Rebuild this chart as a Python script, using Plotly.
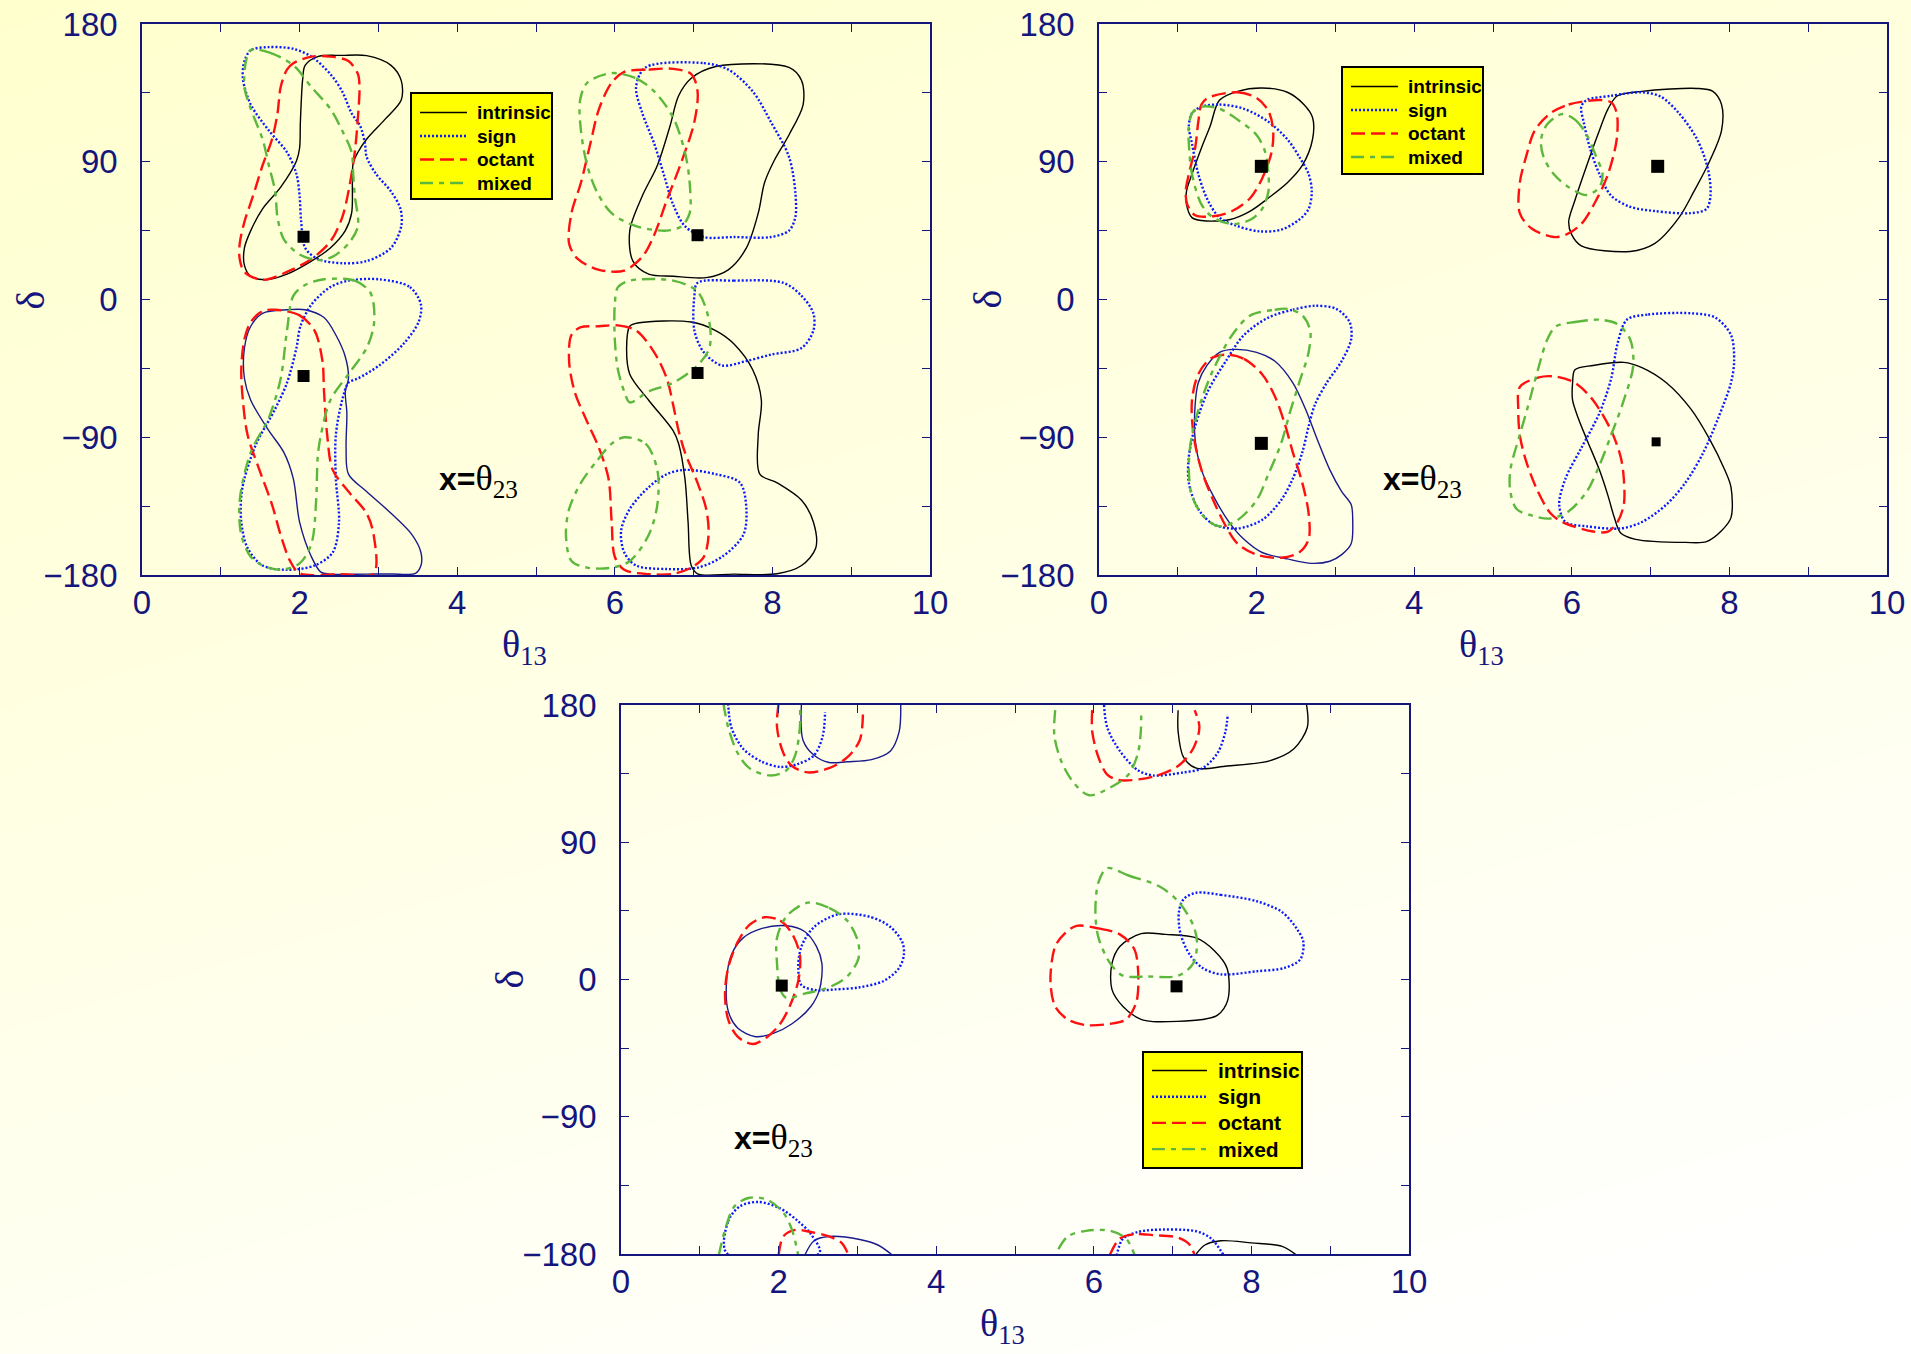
import plotly.graph_objects as go

# ----------------------------------------------------------------------------
# Axis ticks
# ----------------------------------------------------------------------------
X_TICK_VALUES = [0, 1, 2, 3, 4, 5, 6, 7, 8, 9, 10]
X_TICK_LABELS = ["0", "", "2", "", "4", "", "6", "", "8", "", "10"]
Y_TICK_VALUES = [-180, -135, -90, -45, 0, 45, 90, 135, 180]
Y_TICK_LABELS = ["\u2212180", "", "\u221290", "", "0", "", "90", "", "180"]

SERIES = ["intrinsic", "sign", "octant", "mixed"]

# ----------------------------------------------------------------------------
# Panel 1 contours: (theta13 [deg], delta [deg])
# ----------------------------------------------------------------------------
P1_INTR_UL = [(2.23, 158.7), (2.54, 159.5), (2.85, 159.3), (3.16, 153), (3.29, 143), (3.29, 130.3),
              (3.08, 117.5), (2.85, 104.7), (2.74, 96.2), (2.68, 89.1), (2.67, 76.3), (2.66, 56.4),
              (2.58, 45), (2.39, 33.7), (2.15, 25.1), (1.84, 16.6), (1.57, 12.9), (1.38, 15.2),
              (1.30, 22.3), (1.30, 33.7), (1.38, 45), (1.53, 59.2), (1.76, 73.4), (1.96, 90.5),
              (2.00, 99), (2.01, 116), (2.04, 144.5), (2.07, 153), (2.23, 158.7)]
P1_INTR_UR = [(7.28, 152.2), (8.21, 151.6), (8.37, 143.1), (8.39, 127.4), (8.21, 107.5), (8.02, 90.5),
              (7.90, 76.3), (7.82, 56.4), (7.67, 33.7), (7.44, 19.4), (7.16, 14.3), (6.74, 15.2),
              (6.43, 16.6), (6.23, 25.1), (6.19, 45), (6.35, 67.8), (6.54, 87.6), (6.70, 113.2),
              (6.81, 133.1), (6.97, 144.5), (7.28, 152.2)]
P1_INTR_LR = [(6.19, -17.5), (6.31, -15.2), (6.97, -14.7), (7.28, -20.3), (7.51, -28.9), (7.75, -45.9),
              (7.86, -65.8), (7.82, -88.5), (7.84, -114.1), (8.06, -119.8), (8.37, -131.2),
              (8.52, -145.4), (8.55, -162.4), (8.37, -173.8), (8.06, -179.2), (7.51, -179.4),
              (7.05, -179.2), (6.97, -173.8), (6.93, -145.4), (6.89, -117), (6.81, -94.2),
              (6.74, -85.7), (6.43, -65.8), (6.19, -48.8), (6.15, -31.7), (6.19, -17.5)]
P1_INTR_LL = [(1.84, -6.7), (2.07, -6.7), (2.31, -11.8), (2.46, -23.2), (2.58, -37.4), (2.62, -51.6),
              (2.58, -60.1), (2.60, -74.3), (2.59, -97.1), (2.62, -114.1), (2.85, -125.5),
              (3.16, -139.7), (3.43, -153.9), (3.54, -165.3), (3.54, -173.8), (3.47, -178.9),
              (3.16, -179.3), (2.85, -179.4), (2.39, -179.4), (2.27, -178.1), (2.15, -168.1),
              (2.00, -145.4), (1.92, -117), (1.80, -99.9), (1.61, -85.7), (1.38, -65.8),
              (1.30, -51.6), (1.30, -31.7), (1.38, -17.5), (1.53, -9), (1.84, -6.7)]

P1_SIGN_UL = [(1.61, 164.9), (1.38, 162.9), (1.30, 155.8), (1.28, 144.5), (1.38, 127.4), (1.61, 110.4),
              (1.84, 96.2), (1.96, 82), (2.00, 67.8), (2.02, 50.7), (2.07, 33.7), (2.23, 26.5),
              (2.54, 23.7), (2.85, 25.1), (3.16, 33.7), (3.29, 47.9), (3.28, 59.2), (3.16, 70.6),
              (2.97, 82), (2.85, 93.3), (2.83, 101.9), (2.77, 113.2), (2.66, 121.7), (2.54, 136),
              (2.39, 147.3), (2.15, 158.7), (1.92, 163.8), (1.61, 164.9)]
P1_SIGN_UR = [(6.39, 151.6), (7.13, 154.4), (7.44, 150.2), (7.75, 136), (7.98, 116.1), (8.21, 93.3),
              (8.29, 70.6), (8.29, 53.5), (8.21, 45), (7.98, 40.8), (7.51, 40.8), (7.13, 40.8),
              (6.89, 47.9), (6.74, 62.1), (6.62, 82), (6.50, 101.9), (6.35, 121.7), (6.27, 138.8),
              (6.39, 151.6)]
P1_SIGN_LL = [(3.01, 13.2), (3.40, 8.1), (3.54, -3.3), (3.51, -14.7), (3.32, -28.9), (3.01, -43.1),
              (2.74, -51.6), (2.62, -54.4), (2.54, -65.8), (2.46, -88.5), (2.46, -117), (2.50, -145.4),
              (2.42, -165.3), (2.19, -173.8), (1.84, -176.6), (1.53, -173.8), (1.34, -162.4),
              (1.26, -145.4), (1.26, -128.3), (1.30, -117), (1.45, -94.2), (1.69, -71.5),
              (1.84, -54.4), (1.96, -31.7), (2.01, -17.5), (2.15, -3.3), (2.39, 8.1), (2.62, 12.3),
              (3.01, 13.2)]
P1_SIGN_LR_A = [(7.05, 10.9), (7.51, 12.3), (8.14, 10.9), (8.37, 2.4), (8.52, -9), (8.52, -20.3),
                (8.37, -31.7), (7.98, -36), (7.67, -40.2), (7.36, -43.1), (7.13, -34.5),
                (7.01, -20.3), (7.01, 2.4), (7.05, 10.9)]
P1_SIGN_LR_B = [(6.89, -111.3), (7.28, -114.1), (7.59, -119.8), (7.67, -136.9), (7.63, -153.9),
                (7.36, -168.1), (7.05, -175.2), (6.66, -176.1), (6.27, -173.8), (6.12, -165.3),
                (6.08, -151.1), (6.19, -136.9), (6.43, -122.6), (6.66, -114.1), (6.89, -111.3)]

P1_OCT_UL = [(2.15, 158.7), (1.92, 154.4), (1.84, 150.2), (1.76, 138.8), (1.72, 121.7), (1.65, 104.7),
             (1.53, 87.6), (1.41, 67.8), (1.30, 50.7), (1.24, 36.5), (1.24, 26.5), (1.30, 18),
             (1.53, 12.9), (1.84, 18), (2.15, 26.5), (2.39, 37.9), (2.54, 53.5), (2.62, 70.6),
             (2.70, 96.2), (2.74, 118.9), (2.76, 138.8), (2.74, 147.3), (2.62, 155.8), (2.39, 158.7),
             (2.15, 158.7)]
P1_OCT_UR = [(6.12, 148.7), (6.43, 150.2), (6.74, 150.7), (6.97, 147.3), (7.05, 136), (7.01, 116.1),
             (6.85, 90.5), (6.66, 64.9), (6.50, 42.2), (6.35, 28), (6.12, 18.9), (5.80, 19.4),
             (5.53, 26.5), (5.42, 36.5), (5.45, 56.4), (5.57, 76.3), (5.69, 101.9), (5.80, 124.6),
             (5.96, 141.6), (6.12, 148.7)]
P1_OCT_LL = [(1.69, -6.7), (2.00, -10.4), (2.19, -20.3), (2.29, -40.2), (2.31, -60.1), (2.35, -88.5),
             (2.42, -111.3), (2.62, -125.5), (2.85, -139.7), (2.94, -153.9), (2.94, -179.2),
             (2.54, -179.4), (2.00, -178.9), (1.88, -170.9), (1.76, -153.9), (1.65, -134),
             (1.49, -111.3), (1.34, -88.5), (1.28, -65.8), (1.26, -45.9), (1.30, -26), (1.38, -14.7),
             (1.53, -7.6), (1.69, -6.7)]
P1_OCT_LR = [(5.80, -17.5), (6.04, -16.9), (6.27, -20.3), (6.50, -34.5), (6.66, -51.6), (6.74, -68.7),
             (6.81, -85.7), (6.89, -99.9), (7.05, -119.8), (7.16, -136.9), (7.19, -153.9),
             (7.13, -168.1), (6.97, -175.2), (6.74, -179.2), (6.43, -179.4), (6.12, -176.6),
             (6.00, -168.1), (5.96, -145.4), (5.92, -117), (5.80, -97.1), (5.65, -80), (5.49, -60.1),
             (5.42, -40.2), (5.45, -23.2), (5.57, -18.1), (5.80, -17.5)]

P1_MIX_UL = [(1.38, 162.9), (1.61, 161.5), (1.92, 153), (2.15, 138.8), (2.39, 124.6), (2.54, 110.4),
             (2.66, 96.2), (2.68, 82), (2.70, 67.8), (2.74, 47.9), (2.62, 36.5), (2.42, 28),
             (2.23, 25.7), (2.00, 29.4), (1.80, 39.3), (1.72, 53.5), (1.69, 70.6), (1.61, 87.6),
             (1.53, 104.7), (1.38, 124.6), (1.30, 138.8), (1.32, 155.8), (1.38, 162.9)]
P1_MIX_UR = [(5.96, 147.9), (6.27, 144.5), (6.50, 136), (6.74, 118.9), (6.89, 96.2), (6.95, 76.3),
             (6.95, 56.4), (6.85, 47.9), (6.66, 45), (6.27, 47.9), (5.96, 56.4), (5.77, 70.6),
             (5.65, 87.6), (5.57, 110.4), (5.56, 130.3), (5.65, 141.6), (5.96, 147.9)]
P1_MIX_LL = [(2.31, 13.2), (2.70, 12.3), (2.89, 5.2), (2.94, -3.3), (2.94, -17.5), (2.85, -31.7),
             (2.62, -48.8), (2.39, -65.8), (2.27, -88.5), (2.23, -102.8), (2.21, -131.2),
             (2.15, -159.6), (2.00, -172.4), (1.76, -176.6), (1.53, -173.8), (1.38, -168.1),
             (1.26, -153.9), (1.24, -131.2), (1.38, -99.9), (1.61, -77.2), (1.76, -51.6),
             (1.84, -20.3), (1.92, 2.4), (2.07, 9.5), (2.31, 13.2)]
P1_MIX_LR_A = [(6.19, 12.3), (6.74, 12.3), (7.05, 5.2), (7.20, -14.7), (7.20, -31.7), (7.05, -43.1),
               (6.74, -54.4), (6.43, -60.1), (6.19, -67.2), (6.12, -60.1), (6.04, -45.9), (6.00, -26),
               (6.00, -3.3), (6.04, 8.1), (6.19, 12.3)]
P1_MIX_LR_B = [(6.12, -90), (6.39, -94.2), (6.54, -111.3), (6.54, -134), (6.43, -153.9),
               (6.19, -170.9), (5.96, -175.2), (5.65, -175.2), (5.45, -170.9), (5.38, -153.9),
               (5.42, -136.9), (5.57, -119.8), (5.77, -105.6), (5.96, -94.2), (6.12, -90)]

P1_TRUE_X = [2.05, 2.05, 7.05, 7.05]
P1_TRUE_Y = [41, -50, 42, -48]

# ----------------------------------------------------------------------------
# Panel 2 contours
# ----------------------------------------------------------------------------
P2_INTR_UL = [(1.53, 130.3), (1.76, 136), (2.07, 138.2), (2.39, 135.4), (2.60, 127.4), (2.71, 118.9),
              (2.71, 104.7), (2.58, 87.6), (2.39, 76.3), (2.15, 66.3), (1.92, 57.8), (1.65, 52.1),
              (1.30, 51.6), (1.18, 53.5), (1.11, 62.1), (1.11, 70.6), (1.18, 82), (1.30, 99),
              (1.41, 113.2), (1.53, 130.3)]
P2_INTR_UR = [(6.58, 133.1), (6.89, 136), (7.59, 137.9), (7.79, 136), (7.90, 127.4), (7.90, 110.4),
              (7.75, 90.5), (7.55, 70.6), (7.36, 53.5), (7.05, 36.5), (6.74, 31.4), (6.12, 35.1),
              (6.00, 42.2), (5.96, 50.7), (6.04, 64.9), (6.19, 87.6), (6.35, 110.4), (6.46, 124.6),
              (6.58, 133.1)]
P2_INTR_LL = [(1.53, -34.5), (1.72, -32.6), (2.00, -34.5), (2.23, -40.2), (2.46, -54.4), (2.62, -71.5),
              (2.77, -91.4), (2.93, -111.3), (3.08, -125.5), (3.20, -134), (3.22, -145.4),
              (3.20, -159.6), (3.08, -166.7), (2.93, -171), (2.70, -172.4), (2.39, -169.5),
              (2.07, -165.3), (1.84, -156.7), (1.65, -145.4), (1.45, -128.3), (1.30, -111.3),
              (1.22, -91.4), (1.22, -68.7), (1.26, -54.4), (1.37, -43.1), (1.53, -34.5)]
P2_INTR_LR = [(6.04, -45.9), (6.27, -43.1), (6.66, -41.1), (6.89, -44.5), (7.20, -54.4), (7.51, -71.5),
              (7.75, -91.4), (7.94, -111.3), (8.02, -122.6), (8.02, -142.5), (7.90, -151.1),
              (7.71, -158.2), (7.44, -158.7), (6.81, -156.7), (6.62, -152.5), (6.54, -142.5),
              (6.46, -128.3), (6.35, -111.3), (6.19, -91.4), (6.08, -77.2), (6.01, -65.8),
              (6.01, -54.4), (6.04, -45.9)]

P2_SIGN_UL = [(1.30, 126), (1.53, 127.4), (1.84, 124.6), (2.15, 116.1), (2.39, 104.7), (2.54, 93.3),
              (2.66, 82), (2.70, 70.6), (2.66, 59.2), (2.54, 52.1), (2.31, 45.6), (2.04, 44.5),
              (1.76, 47.9), (1.53, 53.5), (1.38, 64.9), (1.26, 82), (1.18, 101.9), (1.14, 113.2),
              (1.18, 121.7), (1.30, 126)]
P2_SIGN_UR = [(6.19, 130.3), (6.50, 133.1), (6.89, 135.4), (7.13, 132.5), (7.36, 121.7), (7.59, 104.7),
              (7.73, 84.8), (7.76, 67.8), (7.71, 59.2), (7.51, 56.4), (7.05, 57.8), (6.74, 60.6),
              (6.50, 67.8), (6.35, 82), (6.23, 99), (6.15, 116.1), (6.12, 126), (6.19, 130.3)]
P2_SIGN_LL = [(2.15, -11.8), (2.46, -6.7), (2.74, -4.1), (3.01, -6.1), (3.18, -14.7), (3.20, -26),
              (3.08, -40.2), (2.89, -54.4), (2.74, -68.7), (2.66, -82.9), (2.58, -99.9), (2.46, -117),
              (2.31, -131.2), (2.07, -144), (1.76, -149.6), (1.45, -146.8), (1.26, -136.9),
              (1.14, -119.8), (1.14, -102.8), (1.22, -82.9), (1.38, -60.1), (1.61, -40.2),
              (1.84, -23.2), (2.15, -11.8)]
P2_SIGN_LR = [(6.70, -13.2), (6.97, -9.8), (7.51, -9), (7.82, -11.8), (8.02, -23.2), (8.06, -40.2),
              (8.02, -54.4), (7.86, -77.2), (7.67, -99.9), (7.44, -119.8), (7.20, -134), (6.89, -145.4),
              (6.62, -149.6), (6.19, -148.2), (5.92, -145.4), (5.84, -134), (5.92, -117), (6.12, -97.1),
              (6.35, -74.3), (6.50, -51.6), (6.58, -28.9), (6.70, -13.2)]

P2_OCT_UL = [(1.38, 131.7), (1.76, 135.4), (2.00, 131.7), (2.15, 123.2), (2.21, 110.4), (2.19, 96.2),
             (2.07, 79.1), (1.92, 66.3), (1.69, 57.8), (1.45, 54.4), (1.22, 55), (1.12, 62.1),
             (1.10, 70.6), (1.14, 82), (1.22, 99), (1.26, 116.1), (1.30, 127.4), (1.38, 131.7)]
P2_OCT_UR = [(5.73, 121.7), (5.96, 127.4), (6.35, 130.3), (6.50, 128.8), (6.57, 121.7), (6.57, 104.7),
             (6.46, 82), (6.31, 64.9), (6.12, 49.3), (5.92, 42.2), (5.77, 40.8), (5.49, 46.4),
             (5.34, 56.4), (5.34, 76.3), (5.42, 93.3), (5.53, 110.4), (5.73, 121.7)]
P2_OCT_LL = [(1.61, -36), (1.84, -38.8), (2.07, -48.8), (2.23, -63), (2.35, -80), (2.46, -99.9),
             (2.58, -119.8), (2.66, -139.7), (2.66, -156.7), (2.54, -165.3), (2.31, -168.7),
             (2.00, -166.7), (1.76, -159.6), (1.61, -148.2), (1.45, -131.2), (1.30, -111.3),
             (1.20, -88.5), (1.18, -65.8), (1.26, -48.8), (1.41, -38.8), (1.61, -36)]
P2_OCT_LR = [(5.34, -57.3), (5.57, -51), (5.77, -50.2), (6.04, -54.4), (6.27, -65.8), (6.50, -85.7),
             (6.62, -102.8), (6.66, -117), (6.66, -134), (6.58, -145.4), (6.46, -151.6),
             (6.27, -151.6), (5.88, -145.4), (5.73, -139.7), (5.57, -125.5), (5.42, -105.6),
             (5.34, -88.5), (5.32, -71.5), (5.34, -57.3)]

P2_MIX_UL = [(1.18, 121.7), (1.30, 126), (1.53, 124.6), (1.76, 117.5), (2.00, 107.5), (2.11, 96.2),
             (2.15, 82), (2.15, 70.6), (2.07, 59.2), (1.92, 52.1), (1.69, 49.3), (1.45, 53.5),
             (1.30, 62.1), (1.18, 82), (1.14, 101.9), (1.14, 113.2), (1.18, 121.7)]
P2_MIX_UR = [(5.88, 121.2), (6.04, 117.5), (6.19, 107.5), (6.31, 93.3), (6.39, 82), (6.35, 73.4),
             (6.19, 68.3), (5.96, 73.4), (5.77, 82), (5.64, 93.3), (5.61, 104.7), (5.69, 114.6),
             (5.88, 121.2)]
P2_MIX_LL = [(1.92, -10.4), (2.23, -6.7), (2.39, -6.1), (2.58, -10.4), (2.68, -20.3), (2.66, -34.5),
             (2.54, -54.4), (2.42, -74.3), (2.31, -94.2), (2.15, -114.1), (2.00, -131.2), (1.76, -144),
             (1.53, -148.2), (1.34, -142.5), (1.18, -128.3), (1.14, -108.4), (1.18, -88.5),
             (1.30, -65.8), (1.45, -45.9), (1.69, -23.2), (1.92, -10.4)]
P2_MIX_LR = [(5.80, -17.5), (6.04, -14.7), (6.35, -13.2), (6.58, -16.1), (6.74, -26), (6.78, -43.1),
             (6.66, -65.8), (6.50, -88.5), (6.35, -108.4), (6.19, -125.5), (5.96, -138.3),
             (5.73, -143.1), (5.49, -141.1), (5.30, -136.9), (5.22, -125.5), (5.22, -111.3),
             (5.34, -88.5), (5.45, -68.7), (5.57, -45.9), (5.69, -26), (5.80, -17.5)]

P2_TRUE_X = [2.06, 7.09, 2.06, 7.07]
P2_TRUE_Y = [87, 87, -94, -93]

# ----------------------------------------------------------------------------
# Panel 3 contours (curves wrap across delta = +/-180)
# ----------------------------------------------------------------------------
P3_INTR_TL = [(2.29, 181), (2.31, 156.9), (2.45, 147), (2.64, 142.3), (2.87, 142.8), (3.18, 144.2),
              (3.42, 149.9), (3.53, 162.5), (3.55, 181)]
P3_INTR_TR = [(7.07, 176.6), (7.07, 162.5), (7.14, 145.6), (7.30, 138.6), (7.69, 140), (8.23, 143.4),
              (8.54, 151.3), (8.71, 165.4), (8.70, 180)]
P3_INTR_ML = [(2.10, 35.2), (2.33, 31.5), (2.48, 21.7), (2.55, 10.4), (2.52, -6.5), (2.41, -17.7),
              (2.17, -29), (1.94, -35.2), (1.71, -37.5), (1.48, -31.8), (1.36, -20.6), (1.34, -0.8),
              (1.40, 16.1), (1.55, 27.3), (1.79, 33.5), (2.10, 35.2)]
P3_INTR_MR = [(6.60, 30.1), (6.91, 29.6), (7.30, 27.3), (7.53, 18.9), (7.69, 7.6), (7.70, -13.5),
              (7.57, -23.4), (7.38, -26.2), (6.75, -27.6), (6.60, -26.2), (6.37, -17.7), (6.23, -6.5),
              (6.23, 10.4), (6.33, 21.7), (6.60, 30.1)]
P3_INTR_BL = [(2.33, -181), (2.45, -171.3), (2.64, -168.5), (3.03, -170.5), (3.26, -174.1), (3.45, -181)]
P3_INTR_BR = [(7.30, -180), (7.41, -174.1), (7.61, -171.3), (8.00, -172.7), (8.39, -175), (8.58, -181)]

P3_SIGN_TL = [(1.36, 181), (1.40, 165.4), (1.55, 151.3), (1.79, 142.8), (2.02, 139.4), (2.25, 141.4),
              (2.45, 147), (2.56, 159.7), (2.59, 175.2)]
P3_SIGN_TR = [(6.13, 180), (6.17, 165.4), (6.33, 149.9), (6.56, 137.2), (6.75, 133.8), (7.14, 135.8),
              (7.38, 138.6), (7.57, 148.5), (7.67, 162.5), (7.70, 173.8)]
P3_SIGN_ML = [(2.76, 42.8), (3.18, 40.8), (3.42, 34.4), (3.57, 24.5), (3.59, 16.1), (3.53, 7.6),
              (3.34, -0.8), (3.03, -5.1), (2.72, -6.5), (2.48, -7), (2.29, -3.7), (2.25, 7.6),
              (2.29, 21.7), (2.45, 34.4), (2.76, 42.8)]
P3_SIGN_MR = [(7.30, 56.9), (7.61, 55.5), (8.07, 51.3), (8.39, 44.2), (8.58, 33), (8.66, 24.5),
              (8.62, 13.2), (8.42, 7.6), (8.07, 5.4), (7.61, 3.4), (7.38, 7.6), (7.22, 16.1),
              (7.10, 30.1), (7.08, 44.2), (7.14, 52.7), (7.30, 56.9)]
P3_SIGN_BL = [(1.34, -179.3), (1.36, -158.6), (1.51, -148.7), (1.75, -145.9), (2.02, -150.1),
              (2.25, -158.6), (2.41, -167), (2.52, -179.3), (1.34, -179.3)]
P3_SIGN_BR = [(6.29, -181), (6.37, -169.9), (6.56, -165.6), (6.75, -164.2), (7.30, -165.1),
              (7.49, -169.9), (7.65, -181)]

P3_OCT_TL = [(2.00, 181), (1.98, 165.4), (2.06, 148.5), (2.17, 140), (2.37, 135.8), (2.64, 138.6),
             (2.87, 145.6), (3.03, 156.9), (3.07, 173.8)]
P3_OCT_TR = [(5.98, 176.6), (5.98, 162.5), (6.06, 145.6), (6.17, 134.4), (6.33, 130.7), (6.75, 133),
             (7.07, 140), (7.26, 151.3), (7.34, 165.4), (7.28, 176.6)]
P3_OCT_ML = [(1.82, 40.8), (2.02, 38.6), (2.17, 30.1), (2.27, 16.1), (2.25, -0.8), (2.14, -17.7),
             (2.02, -29), (1.86, -37.5), (1.67, -42.3), (1.48, -37.5), (1.36, -26.2), (1.32, -9.3),
             (1.36, 7.6), (1.48, 24.5), (1.63, 35.8), (1.82, 40.8)]
P3_OCT_MR = [(5.78, 35.2), (6.06, 33.5), (6.33, 29.6), (6.51, 20.3), (6.56, 7.6), (6.54, -14.9),
             (6.41, -26.2), (6.21, -29), (5.90, -29.9), (5.67, -26.2), (5.51, -17.7), (5.45, -0.8),
             (5.51, 21.7), (5.63, 30.1), (5.78, 35.2)]
P3_OCT_BL = [(2.00, -181), (2.06, -168.5), (2.21, -164.2), (2.41, -165.6), (2.64, -168.5),
             (2.80, -172.7), (2.89, -181)]
P3_OCT_BR = [(6.20, -181), (6.33, -169.9), (6.52, -167), (6.75, -167.6), (7.07, -169.3),
             (7.22, -174.1), (7.28, -181)]

P3_MIX_TL = [(1.30, 181), (1.36, 165.4), (1.48, 148.5), (1.63, 138.6), (1.90, 133.8), (2.10, 137.2),
             (2.21, 147), (2.27, 165.4), (2.27, 181)]
P3_MIX_TR = [(5.51, 176.6), (5.50, 159.7), (5.59, 142.8), (5.75, 128.7), (5.94, 120.8), (6.21, 125.9),
             (6.44, 134.4), (6.56, 148.5), (6.60, 165.4), (6.60, 175.2)]
P3_MIX_ML = [(2.37, 50.4), (2.64, 47), (2.87, 38.6), (3.01, 24.5), (3.01, 13.2), (2.87, 2),
             (2.64, -5.1), (2.33, -9.3), (2.10, -12.1), (2.02, -6.5), (1.98, 10.4), (1.98, 27.3),
             (2.10, 41.4), (2.37, 50.4)]
P3_MIX_MR = [(6.17, 73), (6.44, 68.2), (6.83, 61.1), (7.07, 51.3), (7.26, 35.8), (7.31, 24.5),
             (7.26, 10.4), (7.07, 2.5), (6.68, 2), (6.37, 2.5), (6.21, 10.4), (6.06, 27.3),
             (6.02, 44.2), (6.06, 63.9), (6.17, 73)]
P3_MIX_BL = [(1.24, -181), (1.32, -164.2), (1.44, -148.7), (1.63, -143.1), (1.86, -144.5),
             (2.06, -152.9), (2.17, -164.2), (2.25, -181)]
P3_MIX_BR = [(5.55, -176.9), (5.67, -168.5), (5.90, -164.8), (6.21, -164.8), (6.41, -169.9),
             (6.52, -181)]

P3_TRUE_X = [2.04, 7.05]
P3_TRUE_Y = [-4, -4.5]

# ----------------------------------------------------------------------------
# Styling
# ----------------------------------------------------------------------------
W, H = 1911, 1354
NAVY = "#15157e"
LINE_STYLE = {
    "intrinsic": dict(color="#000000", width=1.4, dash="solid"),
    "intrinsic_navy": dict(color="#1a1a8c", width=1.4, dash="solid"),
    "sign": dict(color="#0a1aff", width=2.4, dash="2px,2px"),
    "octant": dict(color="#ff1010", width=2.4, dash="14px,6px"),
    "mixed": dict(color="#5cb83c", width=2.4, dash="13px,6px,5px,6px"),
}
TICK_FONT = dict(family="Liberation Sans, Arial", size=33, color=NAVY)
SERIF = "Liberation Serif, Times New Roman, serif"

# Plot-area rectangles in pixels: (left, top, right, bottom)
PANEL_BOXES = [(142, 24, 930, 575), (1099, 24, 1887, 575), (621, 705, 1409, 1254)]

# Legend boxes in pixels: left, top, width, height, font size, first-row offset,
# row spacing, sample line start/end, text start (offsets from the box corner)
LEGEND_BOXES = [
    (411, 93, 141, 106, 19, 19.5, 23.5, 9, 56, 64),
    (1342, 67, 141, 107, 19, 19.5, 23.5, 9, 56, 64),
    (1143, 1052, 159, 116, 21, 18.5, 26.2, 9, 64, 73),
]
LABEL_POS = [(3.74, -118), (3.58, -118), (1.41, -105)]


def join(*curves):
    xs, ys = [], []
    for c in curves:
        if xs:
            xs.append(None)
            ys.append(None)
        xs += [p[0] for p in c]
        ys += [p[1] for p in c]
    return xs, ys


def px_x(v):
    return v / W


def px_y(v):
    return 1 - v / H


fig = go.Figure()

panels = [
    dict(
        intrinsic=[P1_INTR_UL, P1_INTR_UR, P1_INTR_LR],
        intrinsic_navy=[P1_INTR_LL],
        sign=[P1_SIGN_UL, P1_SIGN_UR, P1_SIGN_LL, P1_SIGN_LR_A, P1_SIGN_LR_B],
        octant=[P1_OCT_UL, P1_OCT_UR, P1_OCT_LL, P1_OCT_LR],
        mixed=[P1_MIX_UL, P1_MIX_UR, P1_MIX_LL, P1_MIX_LR_A, P1_MIX_LR_B],
        true_x=P1_TRUE_X, true_y=P1_TRUE_Y, marker_sizes=[12, 12, 12, 12],
    ),
    dict(
        intrinsic=[P2_INTR_UL, P2_INTR_UR, P2_INTR_LR],
        intrinsic_navy=[P2_INTR_LL],
        sign=[P2_SIGN_UL, P2_SIGN_UR, P2_SIGN_LL, P2_SIGN_LR],
        octant=[P2_OCT_UL, P2_OCT_UR, P2_OCT_LL, P2_OCT_LR],
        mixed=[P2_MIX_UL, P2_MIX_UR, P2_MIX_LL, P2_MIX_LR],
        true_x=P2_TRUE_X, true_y=P2_TRUE_Y, marker_sizes=[13, 13, 13, 9],
    ),
    dict(
        intrinsic=[P3_INTR_TR, P3_INTR_MR, P3_INTR_BR],
        intrinsic_navy=[P3_INTR_TL, P3_INTR_ML, P3_INTR_BL],
        sign=[P3_SIGN_TL, P3_SIGN_TR, P3_SIGN_ML, P3_SIGN_MR, P3_SIGN_BL, P3_SIGN_BR],
        octant=[P3_OCT_TL, P3_OCT_TR, P3_OCT_ML, P3_OCT_MR, P3_OCT_BL, P3_OCT_BR],
        mixed=[P3_MIX_TL, P3_MIX_TR, P3_MIX_ML, P3_MIX_MR, P3_MIX_BL, P3_MIX_BR],
        true_x=P3_TRUE_X, true_y=P3_TRUE_Y, marker_sizes=[12, 12],
    ),
]

for i, p in enumerate(panels):
    sfx = "" if i == 0 else str(i + 1)
    xa, ya = "x" + sfx, "y" + sfx
    # intrinsic pieces drawn in navy
    xs, ys = join(*p["intrinsic_navy"])
    st = LINE_STYLE["intrinsic_navy"]
    fig.add_trace(go.Scatter(x=xs, y=ys, mode="lines", name="intrinsic", xaxis=xa, yaxis=ya,
                             showlegend=False,
                             line=dict(color=st["color"], width=st["width"], shape="spline",
                                       smoothing=0.9)))
    for name in SERIES:
        xs, ys = join(*p[name])
        st = LINE_STYLE[name]
        fig.add_trace(go.Scatter(
            x=xs, y=ys, mode="lines", name=name, xaxis=xa, yaxis=ya, showlegend=False,
            line=dict(color=st["color"], width=st["width"], dash=st["dash"],
                      shape="spline", smoothing=0.9),
        ))
    fig.add_trace(go.Scatter(
        x=p["true_x"], y=p["true_y"], mode="markers", xaxis=xa, yaxis=ya, showlegend=False,
        marker=dict(symbol="square", size=p["marker_sizes"], color="#000000", opacity=1,
                    line=dict(width=0)),
    ))

# ----------------------------------------------------------------------------
# Axes
# ----------------------------------------------------------------------------
layout_axes = {}
for i, (l, t, r, b) in enumerate(PANEL_BOXES):
    sfx = "" if i == 0 else str(i + 1)
    common = dict(showline=True, linecolor=NAVY, linewidth=1.6, mirror="ticks", ticks="inside",
                  ticklen=8, tickwidth=1.4, tickcolor=NAVY, showgrid=False, zeroline=False,
                  tickfont=TICK_FONT, fixedrange=True, automargin=False)
    layout_axes["xaxis" + sfx] = dict(common, domain=[px_x(l), px_x(r)], range=[0, 10],
                                      tickmode="array", tickvals=X_TICK_VALUES,
                                      ticktext=X_TICK_LABELS, anchor="y" + sfx,
                                      ticklabelstandoff=-2)
    layout_axes["yaxis" + sfx] = dict(common, domain=[px_y(b), px_y(t)], range=[-180, 180],
                                      tickmode="array", tickvals=Y_TICK_VALUES,
                                      ticktext=Y_TICK_LABELS, anchor="x" + sfx,
                                      ticklabelstandoff=16)

# ----------------------------------------------------------------------------
# Page background: soft yellow wash fading to white towards the lower right
# ----------------------------------------------------------------------------
shapes = []
N_BANDS = 60
for k in range(N_BANDS):
    a = k / N_BANDS
    f = min(1.0, (a + 0.5 / N_BANDS) / 0.95)
    blue = int(round(206 + (255 - 206) * f))
    u0, u1 = -0.5, 1.5
    v0 = (a - 0.3 * u0) / 0.7
    v1 = (a - 0.3 * u1) / 0.7
    path = f"M {u0},{1 - v0} L {u1},{1 - v1} L {u1},-1 L {u0},-1 Z"
    shapes.append(dict(type="path", path=path, xref="paper", yref="paper", layer="below",
                       fillcolor=f"rgb(255,255,{blue})", line=dict(width=0)))

# ----------------------------------------------------------------------------
# Axis titles, in-panel labels and legend boxes
# ----------------------------------------------------------------------------
annotations = []
for i, (l, t, r, b) in enumerate(PANEL_BOXES):
    sfx = "" if i == 0 else str(i + 1)
    annotations.append(dict(
        x=px_x(l + 382), y=px_y(b + 72), xref="paper", yref="paper", showarrow=False,
        text="\u03b8<sub>13</sub>", font=dict(family=SERIF, size=38, color=NAVY),
        xanchor="center", yanchor="middle"))
    annotations.append(dict(
        x=px_x(l - 112), y=px_y((t + b) / 2), xref="paper", yref="paper", showarrow=False,
        text="\u03b4", textangle=-90, font=dict(family=SERIF, size=40, color=NAVY),
        xanchor="center", yanchor="middle"))
    lx, ly = LABEL_POS[i]
    annotations.append(dict(
        x=lx, y=ly, xref="x" + sfx, yref="y" + sfx, showarrow=False, xanchor="left",
        yanchor="middle",
        text=("<b>x=</b><span style='font-family:Liberation Serif;font-size:36px'>\u03b8"
              "<sub>23</sub></span>"),
        font=dict(family="Liberation Sans", size=32, color="black")))

for (bl, bt, bw, bh, fs, r0, dy, s0, s1, tx) in LEGEND_BOXES:
    shapes.append(dict(type="rect", xref="paper", yref="paper", layer="above",
                       x0=px_x(bl), x1=px_x(bl + bw), y0=px_y(bt + bh), y1=px_y(bt),
                       fillcolor="#ffff00", line=dict(color="#000000", width=2)))
    for j, name in enumerate(SERIES):
        st = LINE_STYLE[name]
        yy = px_y(bt + r0 + j * dy)
        shapes.append(dict(type="line", xref="paper", yref="paper", layer="above",
                           x0=px_x(bl + s0), x1=px_x(bl + s1), y0=yy, y1=yy,
                           line=dict(color=st["color"], width=st["width"], dash=st["dash"])))
        annotations.append(dict(
            x=px_x(bl + tx), y=yy, xref="paper", yref="paper", showarrow=False,
            xanchor="left", yanchor="middle", text=f"<b>{name}</b>",
            font=dict(family="Liberation Sans", size=fs, color="#000000")))

fig.update_layout(
    width=W, height=H, autosize=False,
    margin=dict(l=0, r=0, t=0, b=0, pad=0, autoexpand=False),
    paper_bgcolor="rgb(255,255,206)", plot_bgcolor="rgba(0,0,0,0)",
    annotations=annotations, shapes=shapes, hovermode=False, showlegend=False,
    **layout_axes,
)

fig.write_html("out.html", include_plotlyjs=True, config={"displayModeBar": False})
